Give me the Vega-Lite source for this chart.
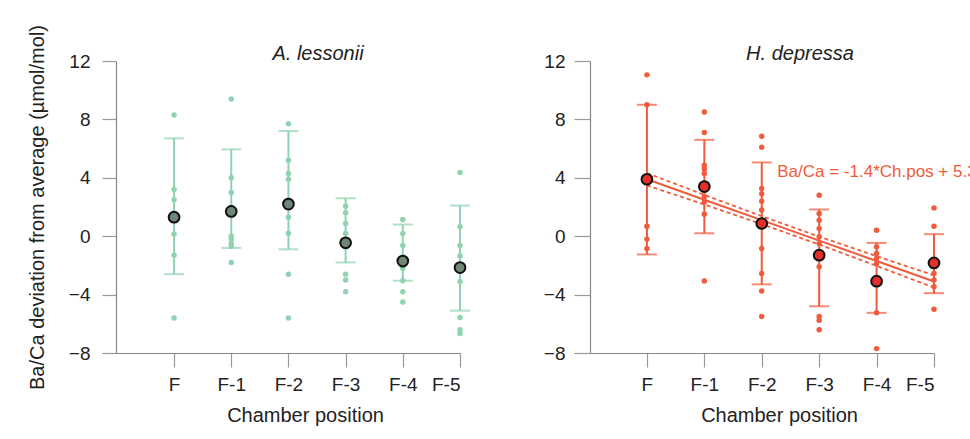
{
  "$schema": "https://vega.github.io/schema/vega-lite/v6.json",
  "background": "white",
  "padding": {"left": 27, "top": 24, "right": 0, "bottom": 5},
  "bounds": "flush",
  "spacing": 114,
  "config": {
    "font": "Liberation Sans",
    "view": {"stroke": null},
    "axis": {"labelFont": "Liberation Sans", "titleFont": "Liberation Sans", "labelFontSize": 19, "titleFontSize": 20, "titleFontWeight": "normal", "labelColor": "#222", "titleColor": "#222", "domainColor": "#888", "tickColor": "#999", "grid": false, "domainWidth": 1.2, "tickWidth": 1.2},
    "title": {"font": "Liberation Sans", "fontSize": 20, "fontStyle": "italic", "fontWeight": "normal", "color": "#222"}
  },
  "datasets": {
    "lesPts": [
      {"pos": 1, "v": 8.3}, {"pos": 1, "v": 3.2}, {"pos": 1, "v": 2.5}, {"pos": 1, "v": 0.15}, {"pos": 1, "v": -1.3}, {"pos": 1, "v": -5.6},
      {"pos": 2, "v": 9.4}, {"pos": 2, "v": 4.0}, {"pos": 2, "v": 3.0}, {"pos": 2, "v": 2.0}, {"pos": 2, "v": 1.5}, {"pos": 2, "v": 0.0}, {"pos": 2, "v": -0.2}, {"pos": 2, "v": -0.5}, {"pos": 2, "v": -0.7}, {"pos": 2, "v": -1.8},
      {"pos": 3, "v": 7.7}, {"pos": 3, "v": 5.2}, {"pos": 3, "v": 4.3}, {"pos": 3, "v": 3.9}, {"pos": 3, "v": 2.5}, {"pos": 3, "v": 1.3}, {"pos": 3, "v": 0.2}, {"pos": 3, "v": -2.6}, {"pos": 3, "v": -5.6},
      {"pos": 4, "v": 2.05}, {"pos": 4, "v": 1.6}, {"pos": 4, "v": 0.87}, {"pos": 4, "v": 0.18}, {"pos": 4, "v": -2.6}, {"pos": 4, "v": -3.0}, {"pos": 4, "v": -3.8},
      {"pos": 5, "v": 1.14}, {"pos": 5, "v": 0.18}, {"pos": 5, "v": -0.64}, {"pos": 5, "v": -2.2}, {"pos": 5, "v": -3.05}, {"pos": 5, "v": -3.8}, {"pos": 5, "v": -4.5},
      {"pos": 6, "v": 4.36}, {"pos": 6, "v": 0.64}, {"pos": 6, "v": -0.64}, {"pos": 6, "v": -1.35}, {"pos": 6, "v": -3.1}, {"pos": 6, "v": -5.57}, {"pos": 6, "v": -6.4}, {"pos": 6, "v": -6.67}
    ],
    "lesSum": [
      {"pos": 1, "mean": 1.3, "lo": -2.6, "hi": 6.7},
      {"pos": 2, "mean": 1.7, "lo": -0.8, "hi": 5.95},
      {"pos": 3, "mean": 2.2, "lo": -0.9, "hi": 7.2},
      {"pos": 4, "mean": -0.45, "lo": -1.8, "hi": 2.6},
      {"pos": 5, "mean": -1.7, "lo": -3.05, "hi": 0.8},
      {"pos": 6, "mean": -2.15, "lo": -5.1, "hi": 2.1}
    ],
    "depPts": [
      {"pos": 1, "v": 11.05}, {"pos": 1, "v": 9.0}, {"pos": 1, "v": 0.68}, {"pos": 1, "v": -0.2}, {"pos": 1, "v": -0.84},
      {"pos": 2, "v": 8.5}, {"pos": 2, "v": 7.1}, {"pos": 2, "v": 4.86}, {"pos": 2, "v": 4.6}, {"pos": 2, "v": 4.3}, {"pos": 2, "v": 2.7}, {"pos": 2, "v": 2.35}, {"pos": 2, "v": 1.5}, {"pos": 2, "v": -3.06},
      {"pos": 3, "v": 6.85}, {"pos": 3, "v": 6.1}, {"pos": 3, "v": 3.27}, {"pos": 3, "v": 2.9}, {"pos": 3, "v": 2.4}, {"pos": 3, "v": 1.8}, {"pos": 3, "v": -0.84}, {"pos": 3, "v": -2.55}, {"pos": 3, "v": -3.75}, {"pos": 3, "v": -5.5},
      {"pos": 4, "v": 2.8}, {"pos": 4, "v": 1.55}, {"pos": 4, "v": 1.1}, {"pos": 4, "v": 0.53}, {"pos": 4, "v": -0.04}, {"pos": 4, "v": -0.5}, {"pos": 4, "v": -2.1}, {"pos": 4, "v": -5.5}, {"pos": 4, "v": -5.75}, {"pos": 4, "v": -6.4},
      {"pos": 5, "v": 0.41}, {"pos": 5, "v": -0.73}, {"pos": 5, "v": -1.19}, {"pos": 5, "v": -1.53}, {"pos": 5, "v": -1.87}, {"pos": 5, "v": -5.25}, {"pos": 5, "v": -7.7},
      {"pos": 6, "v": 1.94}, {"pos": 6, "v": 0.68}, {"pos": 6, "v": -2.55}, {"pos": 6, "v": -3.0}, {"pos": 6, "v": -3.47}, {"pos": 6, "v": -5.0}
    ],
    "depSum": [
      {"pos": 1, "mean": 3.9, "lo": -1.25, "hi": 9.0},
      {"pos": 2, "mean": 3.4, "lo": 0.2, "hi": 6.6},
      {"pos": 3, "mean": 0.87, "lo": -3.3, "hi": 5.05},
      {"pos": 4, "mean": -1.3, "lo": -4.8, "hi": 1.83},
      {"pos": 5, "mean": -3.08, "lo": -5.25, "hi": -0.46},
      {"pos": 6, "mean": -1.83, "lo": -3.9, "hi": 0.14}
    ],
    "fit": [
      {"pos": 1, "fit": 3.9, "up": 4.32, "lo": 3.48},
      {"pos": 2, "fit": 2.5, "up": 2.83, "lo": 2.17},
      {"pos": 3, "fit": 1.1, "up": 1.37, "lo": 0.83},
      {"pos": 4, "fit": -0.3, "up": -0.03, "lo": -0.57},
      {"pos": 5, "fit": -1.7, "up": -1.37, "lo": -2.03},
      {"pos": 6, "fit": -3.1, "up": -2.68, "lo": -3.52}
    ],
    "eq": [
      {"pos": 3.27, "v": 4.4, "label": "Ba/Ca = -1.4*Ch.pos + 5.3"}
    ]
  },
  "hconcat": [
    {
      "width": 358,
      "height": 292,
      "title": {"text": "A. lessonii", "frame": "group", "anchor": "middle", "dx": 37, "offset": -55, "baseline": "alphabetic"},
      "layer": [
        {
          "data": {"name": "lesSum"},
          "mark": {"type": "rule", "color": "#8fd3b1", "strokeWidth": 2},
          "encoding": {
            "x": {"field": "pos", "type": "quantitative", "scale": {"domain": [-0.26, 6], "nice": false, "zero": false},
              "axis": {"values": [1, 2, 3, 4, 5, 6], "labelExpr": "['','F','F-1','F-2','F-3','F-4','F-5'][datum.value]", "title": "Chamber position", "tickSize": 14, "labelPadding": 8, "titlePadding": 11, "titleX": 203}},
            "y": {"field": "lo", "type": "quantitative", "scale": {"domain": [-8, 12], "nice": false, "zero": false},
              "axis": {"values": [-8, -6, -4, -2, 0, 2, 4, 6, 8, 10, 12], "labelExpr": "datum.value % 4 == 0 ? datum.label : ''", "offset": -14, "tickSize": {"condition": {"test": "datum.value % 4 == 0", "value": 14}, "value": 7}, "labelPadding": 12, "titlePadding": 21, "title": "Ba/Ca deviation from average (µmol/mol)"}},
            "y2": {"field": "hi"}
          }
        },
        {
          "data": {"name": "lesSum"},
          "mark": {"type": "tick", "orient": "horizontal", "color": "#8fd3b1", "size": 20, "thickness": 2},
          "encoding": {"x": {"field": "pos", "type": "quantitative"}, "y": {"field": "lo", "type": "quantitative"}}
        },
        {
          "data": {"name": "lesSum"},
          "mark": {"type": "tick", "orient": "horizontal", "color": "#8fd3b1", "size": 20, "thickness": 2},
          "encoding": {"x": {"field": "pos", "type": "quantitative"}, "y": {"field": "hi", "type": "quantitative"}}
        },
        {
          "data": {"name": "lesPts"},
          "mark": {"type": "circle", "size": 30, "opacity": 1, "color": "#8fd3b1"},
          "encoding": {"x": {"field": "pos", "type": "quantitative"}, "y": {"field": "v", "type": "quantitative"}}
        },
        {
          "data": {"name": "lesSum"},
          "mark": {"type": "circle", "size": 115, "opacity": 1, "fill": "#6f8779", "stroke": "#111", "strokeWidth": 2},
          "encoding": {"x": {"field": "pos", "type": "quantitative"}, "y": {"field": "mean", "type": "quantitative"}}
        }
      ]
    },
    {
      "width": 360,
      "height": 292,
      "title": {"text": "H. depressa", "frame": "group", "anchor": "middle", "dx": 46, "offset": -28, "baseline": "alphabetic"},
      "layer": [
        {
          "data": {"name": "depSum"},
          "mark": {"type": "rule", "color": "#ef5b3b", "strokeWidth": 2},
          "encoding": {
            "x": {"field": "pos", "type": "quantitative", "scale": {"domain": [-0.27, 6], "nice": false, "zero": false},
              "axis": {"values": [1, 2, 3, 4, 5, 6], "labelExpr": "['','F','F-1','F-2','F-3','F-4','F-5'][datum.value]", "title": "Chamber position", "tickSize": 14, "labelPadding": 8, "titlePadding": 11, "titleX": 205}},
            "y": {"field": "lo", "type": "quantitative", "scale": {"domain": [-8, 12], "nice": false, "zero": false},
              "axis": {"values": [-8, -6, -4, -2, 0, 2, 4, 6, 8, 10, 12], "labelExpr": "datum.value % 4 == 0 ? datum.label : ''", "offset": -16, "tickSize": {"condition": {"test": "datum.value % 4 == 0", "value": 16}, "value": 8}, "labelPadding": 9, "title": null}},
            "y2": {"field": "hi"}
          }
        },
        {
          "data": {"name": "depSum"},
          "mark": {"type": "tick", "orient": "horizontal", "color": "#ef5b3b", "size": 20, "thickness": 2},
          "encoding": {"x": {"field": "pos", "type": "quantitative"}, "y": {"field": "lo", "type": "quantitative"}}
        },
        {
          "data": {"name": "depSum"},
          "mark": {"type": "tick", "orient": "horizontal", "color": "#ef5b3b", "size": 20, "thickness": 2},
          "encoding": {"x": {"field": "pos", "type": "quantitative"}, "y": {"field": "hi", "type": "quantitative"}}
        },
        {
          "data": {"name": "depPts"},
          "mark": {"type": "circle", "size": 30, "opacity": 1, "color": "#ef5b3b"},
          "encoding": {"x": {"field": "pos", "type": "quantitative"}, "y": {"field": "v", "type": "quantitative"}}
        },
        {
          "data": {"name": "fit"},
          "mark": {"type": "line", "color": "#ef5b3b", "strokeWidth": 2},
          "encoding": {"x": {"field": "pos", "type": "quantitative"}, "y": {"field": "fit", "type": "quantitative"}}
        },
        {
          "data": {"name": "fit"},
          "mark": {"type": "line", "color": "#ef5b3b", "strokeWidth": 1.8, "strokeDash": [4, 3]},
          "encoding": {"x": {"field": "pos", "type": "quantitative"}, "y": {"field": "up", "type": "quantitative"}}
        },
        {
          "data": {"name": "fit"},
          "mark": {"type": "line", "color": "#ef5b3b", "strokeWidth": 1.8, "strokeDash": [4, 3]},
          "encoding": {"x": {"field": "pos", "type": "quantitative"}, "y": {"field": "lo", "type": "quantitative"}}
        },
        {
          "data": {"name": "depSum"},
          "mark": {"type": "circle", "size": 115, "opacity": 1, "fill": "#e3302a", "stroke": "#111", "strokeWidth": 2},
          "encoding": {"x": {"field": "pos", "type": "quantitative"}, "y": {"field": "mean", "type": "quantitative"}}
        },
        {
          "data": {"name": "eq"},
          "mark": {"type": "text", "align": "left", "baseline": "middle", "fontSize": 17, "color": "#ef5b3b", "font": "Liberation Sans"},
          "encoding": {"x": {"field": "pos", "type": "quantitative"}, "y": {"field": "v", "type": "quantitative"}, "text": {"field": "label"}}
        }
      ]
    }
  ]
}
